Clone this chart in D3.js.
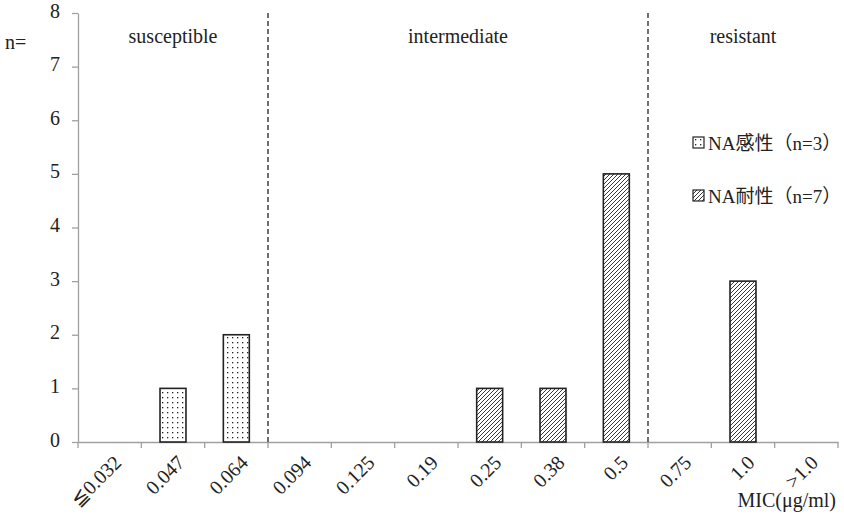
<!DOCTYPE html>
<html><head><meta charset="utf-8">
<script src="https://cdn.jsdelivr.net/npm/d3@7"></script>
<style>body{margin:0;background:#fff}svg{display:block}</style>
</head><body>
<svg id="c" width="844" height="516"></svg>
<script>
const categories = ["≦0.032","0.047","0.064","0.094","0.125","0.19","0.25","0.38","0.5","0.75","1.0",">1.0"];
const sensitive = [0,1,2,0,0,0,0,0,0,0,0,0];
const resistant = [0,0,0,0,0,0,1,1,5,0,3,0];
const yTicks = [0,1,2,3,4,5,6,7,8];
const zones = [{label:"susceptible", from:0, to:3},{label:"intermediate", from:3, to:9},{label:"resistant", from:9, to:12}];
const legendItems = [{label:"NA感性（n=3）", pat:"dots"},{label:"NA耐性（n=7）", pat:"hatch"}];

const serif = "'Liberation Serif','Times New Roman',serif";
const mixed = "'Liberation Serif','Noto Sans CJK JP',serif";
const svg = d3.select("#c");
const L = 78, R = 838, T = 13, B = 442;
const x = d3.scaleBand().domain(categories).range([L, R]);
const y = d3.scaleLinear().domain([0, 8]).range([B, T]);

const defs = svg.append("defs");
const pd = defs.append("pattern").attr("id","dots").attr("patternUnits","userSpaceOnUse").attr("width",5).attr("height",5);
pd.append("rect").attr("width",5).attr("height",5).attr("fill","#fff");
pd.append("rect").attr("x",2).attr("y",2).attr("width",1.3).attr("height",1.3).attr("fill","#222");
const ph = defs.append("pattern").attr("id","hatch").attr("patternUnits","userSpaceOnUse").attr("width",4).attr("height",4);
ph.append("rect").attr("width",4).attr("height",4).attr("fill","#fff");
ph.append("path").attr("d","M-1,1 l2,-2 M0,4 l4,-4 M3,5 l2,-2").attr("stroke","#222").attr("stroke-width",0.9);

// axes
const ya = svg.append("g").attr("transform",`translate(${L},0)`)
  .call(d3.axisLeft(y).tickValues(yTicks).tickSize(6).tickSizeOuter(0).tickPadding(12));
ya.select(".domain").attr("stroke","#a0a0a0").attr("stroke-width",1.3);
ya.selectAll(".tick line").attr("stroke","#a0a0a0").attr("stroke-width",1.3);
ya.selectAll(".tick text").attr("font-family",serif).attr("font-size",20).attr("fill","#222").attr("dy","0.2em");

const xa = svg.append("g").attr("transform",`translate(0,${B})`)
  .call(d3.axisBottom(x).tickSize(0).tickSizeOuter(0).tickFormat(""));
xa.select(".domain").attr("stroke","#a0a0a0").attr("stroke-width",1.3);
xa.selectAll(".tick").remove();
const bounds = d3.range(categories.length + 1).map(i => L + i * x.step());
svg.append("g").selectAll("line").data(bounds).join("line")
  .attr("x1",d=>d).attr("x2",d=>d).attr("y1",B).attr("y2",B+6)
  .attr("stroke","#a0a0a0").attr("stroke-width",1.3);

// x labels
svg.append("g").selectAll("text").data(categories).join("text")
  .attr("transform",d=>`translate(${x(d)+x.bandwidth()/2+3},${B+12}) rotate(-45)`)
  .attr("text-anchor","end").attr("dy","0.7em")
  .attr("font-family",serif).attr("font-size",20).attr("fill","#222").text(d=>d);

// zone separators and labels
svg.append("g").selectAll("line").data(zones.slice(1)).join("line")
  .attr("x1",d=>L+d.from*x.step()).attr("x2",d=>L+d.from*x.step())
  .attr("y1",T).attr("y2",B).attr("stroke","#222").attr("stroke-width",1.3).attr("stroke-dasharray","5,3");
svg.append("g").selectAll("text").data(zones).join("text")
  .attr("x",d=>L+(d.from+d.to)/2*x.step()).attr("y",43)
  .attr("text-anchor","middle").attr("font-family",serif).attr("font-size",20).attr("fill","#222").text(d=>d.label);

// bars
const bw = x.bandwidth()*0.41;
function bars(data, pat){
  svg.append("g").selectAll("rect").data(data.map((v,i)=>({c:categories[i],v})).filter(d=>d.v>0)).join("rect")
    .attr("x",d=>x(d.c)+x.bandwidth()/2-bw/2).attr("width",bw)
    .attr("y",d=>y(d.v)).attr("height",d=>y(0)-y(d.v))
    .attr("fill",`url(#${pat})`).attr("stroke","#222").attr("stroke-width",1.6);
}
bars(sensitive,"dots");
bars(resistant,"hatch");

// legend
const lg = svg.append("g").selectAll("g").data(legendItems).join("g")
  .attr("transform",(d,i)=>`translate(693,${137+i*53})`);
lg.append("rect").attr("width",11).attr("height",11).attr("fill",d=>`url(#${d.pat})`).attr("stroke","#222").attr("stroke-width",1.2);
lg.append("text").attr("x",15).attr("y",6).attr("dy","0.35em")
  .attr("font-family",mixed).attr("font-size",19).attr("fill","#222").text(d=>d.label);

// axis titles
svg.append("text").attr("x",5).attr("y",49).attr("font-family",serif).attr("font-size",20).attr("fill","#222").text("n=");
svg.append("text").attr("x",836).attr("y",507).attr("text-anchor","end").attr("font-family",serif).attr("font-size",20).attr("fill","#222").text("MIC(μg/ml)");
</script>
</body></html>
